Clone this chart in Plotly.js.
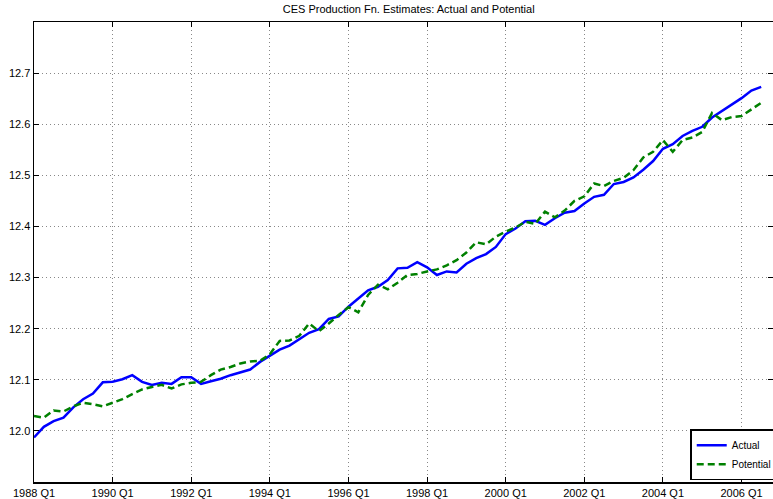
<!DOCTYPE html>
<html>
<head>
<meta charset="utf-8">
<script src="https://cdn.plot.ly/plotly-3.0.1.min.js"></script>
<style>html,body{margin:0;padding:0;background:#fff;overflow:hidden;}#chart{width:800px;height:499px;}</style>
</head>
<body>
<div id="chart"></div>
<script>
// Quarter index 0 = 1988 Q1
const quarters = [];
for (let i = 0; i < 75; i++) quarters.push(i);

const tickPositions = [0, 8, 16, 24, 32, 40, 48, 56, 64, 72];
const tickLabels = ["1988 Q1", "1990 Q1", "1992 Q1", "1994 Q1", "1996 Q1", "1998 Q1", "2000 Q1", "2002 Q1", "2004 Q1", "2006 Q1"];

const actual = [
  11.987, 12.008, 12.019, 12.026, 12.046, 12.062, 12.073, 12.095, 12.096, 12.101,
  12.109, 12.096, 12.090, 12.094, 12.092, 12.105, 12.105, 12.092, 12.097, 12.102,
  12.109, 12.115, 12.120, 12.135, 12.147, 12.159, 12.167, 12.180, 12.192, 12.199,
  12.219, 12.224, 12.243, 12.259, 12.275, 12.282, 12.295, 12.318, 12.319, 12.330,
  12.320, 12.305, 12.312, 12.310, 12.327, 12.338, 12.346, 12.360, 12.385, 12.396,
  12.410, 12.411, 12.403, 12.416, 12.427, 12.430, 12.445, 12.458, 12.462, 12.483,
  12.487, 12.496, 12.511, 12.528, 12.552, 12.561, 12.577, 12.587, 12.595, 12.613,
  12.626, 12.639, 12.651, 12.666, 12.673
];

const potential = [
  12.029, 12.026, 12.040, 12.038, 12.048, 12.055, 12.052, 12.048, 12.055, 12.062,
  12.072, 12.081, 12.086, 12.090, 12.083, 12.091, 12.094, 12.096, 12.109, 12.120,
  12.125, 12.132, 12.136, 12.137, 12.150, 12.176, 12.177, 12.186, 12.210, 12.195,
  12.210, 12.227, 12.242, 12.232, 12.266, 12.286, 12.277, 12.290, 12.305, 12.307,
  12.312, 12.316, 12.324, 12.334, 12.349, 12.369, 12.365, 12.380, 12.390, 12.398,
  12.409, 12.405, 12.429, 12.418, 12.431, 12.450, 12.459, 12.484, 12.479, 12.489,
  12.495, 12.510, 12.535, 12.546, 12.569, 12.546, 12.569, 12.574, 12.585, 12.622,
  12.608, 12.614, 12.616, 12.629, 12.642
];

const fontFam = "Liberation Sans, Arial, sans-serif";

const traces = [
  {x: quarters, y: actual, type: "scatter", mode: "lines", name: "Actual",
   line: {color: "#0000ff", width: 2.5}},
  {x: quarters, y: potential, type: "scatter", mode: "lines", name: "Potential",
   line: {color: "#008000", width: 2.5, dash: "7px,4px"}}
];

const layout = {
  width: 800, height: 499,
  margin: {l: 34, r: 27, t: 22, b: 17, pad: 0},
  paper_bgcolor: "#fff", plot_bgcolor: "#fff",
  font: {family: fontFam, size: 11, color: "#000"},
  title: {text: "CES Production Fn. Estimates: Actual and Potential",
          font: {family: fontFam, size: 11, color: "#000"},
          xref: "paper", x: 0.507, xanchor: "center",
          yref: "container", y: 0.981, yanchor: "middle"},
  xaxis: {
    range: [0, 75.2], tickvals: tickPositions, ticktext: tickLabels,
    ticks: "inside", ticklen: 5, tickwidth: 1, tickcolor: "#000",
    showline: true, linecolor: "#000", linewidth: 1.5, mirror: "ticks",
    showgrid: true, gridcolor: "#888", gridwidth: 1, griddash: "1px,3px",
    zeroline: false, tickfont: {family: fontFam, size: 11, color: "#000"}
  },
  yaxis: {
    range: [11.9, 12.8], tickvals: [12.0, 12.1, 12.2, 12.3, 12.4, 12.5, 12.6, 12.7],
    ticktext: ["12.0", "12.1", "12.2", "12.3", "12.4", "12.5", "12.6", "12.7"],
    ticks: "inside", ticklen: 5, tickwidth: 1, tickcolor: "#000",
    showline: true, linecolor: "#000", linewidth: 1.5, mirror: "ticks",
    showgrid: true, gridcolor: "#888", gridwidth: 1, griddash: "1px,3px",
    zeroline: false, tickfont: {family: fontFam, size: 11, color: "#000"}
  },
  showlegend: true,
  legend: {x: 0.888, xanchor: "left", y: 0.004, yanchor: "bottom",
           bgcolor: "#fff", bordercolor: "#000", borderwidth: 1.5,
           font: {family: fontFam, size: 10, color: "#000"},
           tracegroupgap: 0}
};

Plotly.newPlot("chart", traces, layout, {displayModeBar: false, staticPlot: true});
</script>
</body>
</html>
